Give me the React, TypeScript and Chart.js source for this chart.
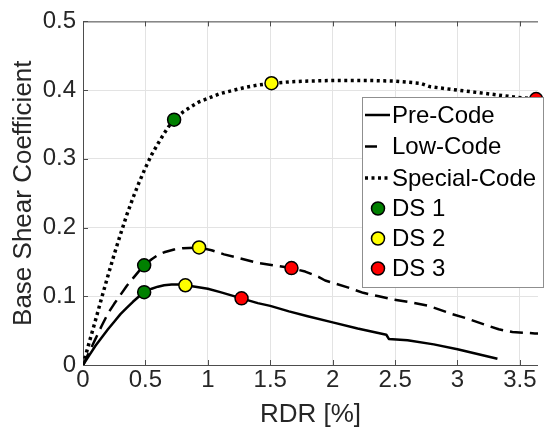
import React, { useEffect, useRef } from "react";
import { Chart, registerables } from "chart.js";

Chart.register(...registerables);

// ---- data ----
const preX = [0, 0.05, 0.1, 0.15, 0.2, 0.25, 0.3, 0.35, 0.4, 0.45, 0.49, 0.55, 0.6, 0.65, 0.71, 0.76, 0.82, 0.9, 1.0, 1.1, 1.27, 1.4, 1.5, 1.65, 1.8, 2.0, 2.2, 2.43, 2.45, 2.6, 2.81, 3.0, 3.32];
const preY = [0, 0.014, 0.028, 0.04, 0.052, 0.063, 0.074, 0.083, 0.092, 0.1, 0.106, 0.111, 0.114, 0.116, 0.117, 0.117, 0.116, 0.114, 0.111, 0.106, 0.097, 0.09, 0.086, 0.078, 0.071, 0.062, 0.053, 0.044, 0.038, 0.036, 0.03, 0.023, 0.009];

const lowX = [0, 0.05, 0.1, 0.15, 0.2, 0.25, 0.3, 0.35, 0.4, 0.45, 0.49, 0.55, 0.6, 0.65, 0.73, 0.8, 0.93, 1.03, 1.13, 1.26, 1.39, 1.53, 1.67, 1.78, 1.89, 1.94, 2.03, 2.12, 2.245, 2.37, 2.49, 2.63, 2.77, 2.96, 3.07, 3.23, 3.33, 3.44, 3.62, 3.9];
const lowY = [0, 0.019, 0.038, 0.057, 0.075, 0.089, 0.102, 0.115, 0.126, 0.137, 0.145, 0.154, 0.16, 0.164, 0.168, 0.17, 0.171, 0.167, 0.161, 0.155, 0.149, 0.145, 0.141, 0.136, 0.128, 0.123, 0.118, 0.113, 0.105, 0.1, 0.095, 0.091, 0.086, 0.074, 0.068, 0.058, 0.052, 0.048, 0.046, 0.043];

const specX = [0, 0.05, 0.1, 0.15, 0.2, 0.25, 0.3, 0.35, 0.4, 0.45, 0.5, 0.55, 0.6, 0.65, 0.72, 0.8, 0.865, 0.93, 1.0, 1.1, 1.21, 1.3, 1.39, 1.51, 1.65, 1.78, 2.0, 2.31, 2.5, 2.7, 2.78, 3.0, 3.23, 3.45, 3.63, 3.9];
const specY = [0, 0.033, 0.065, 0.098, 0.13, 0.161, 0.19, 0.218, 0.243, 0.266, 0.287, 0.306, 0.322, 0.337, 0.356, 0.368, 0.376, 0.383, 0.388, 0.395, 0.4, 0.404, 0.407, 0.41, 0.412, 0.413, 0.414, 0.414, 0.413, 0.41, 0.405, 0.4, 0.395, 0.39, 0.387, 0.383];

const ds1X = [0.49, 0.49, 0.73];
const ds1Y = [0.106, 0.145, 0.357];
const ds2X = [0.82, 0.93, 1.51];
const ds2Y = [0.116, 0.171, 0.41];
const ds3X = [1.27, 1.67, 3.63];
const ds3Y = [0.097, 0.141, 0.387];

const xTicks = [0, 0.5, 1, 1.5, 2, 2.5, 3, 3.5];
const yTicks = [0, 0.1, 0.2, 0.3, 0.4, 0.5];

const seriesNames = ["Pre-Code", "Low-Code", "Special-Code"];
const dsNames = ["DS 1", "DS 2", "DS 3"];
const dsColors = ["#008000", "#ffff00", "#ff0000"];

const FONT = '"Liberation Sans", Arial, Helvetica, sans-serif';
const AXIS_COLOR = "#4d4d4d";
const TEXT_COLOR = "#262626";

const pts = (xs: number[], ys: number[]) => xs.map((x, i) => ({ x, y: ys[i] }));

const boxPlugin = {
  id: "boxPlugin",
  beforeDatasetsDraw(chart: any) {
    const { ctx, chartArea, scales } = chart;
    const { left, right, top, bottom } = chartArea;
    ctx.save();
    ctx.strokeStyle = AXIS_COLOR;
    ctx.lineWidth = 1;
    ctx.beginPath();
    ctx.moveTo(left + 0.5, top + 0.5);
    ctx.lineTo(left + 0.5, bottom + 0.5);
    ctx.lineTo(right, bottom + 0.5);
    ctx.moveTo(left + 0.5, top + 0.5);
    ctx.lineTo(right, top + 0.5);
    const tl = 5;
    xTicks.forEach((v) => {
      const px = Math.round(scales.x.getPixelForValue(v)) + 0.5;
      ctx.moveTo(px, bottom);
      ctx.lineTo(px, bottom - tl);
      ctx.moveTo(px, top);
      ctx.lineTo(px, top + tl);
    });
    yTicks.forEach((v) => {
      const py = Math.round(scales.y.getPixelForValue(v)) + 0.5;
      ctx.moveTo(left, py);
      ctx.lineTo(left + tl, py);
    });
    ctx.stroke();
    ctx.restore();
  },
};

const legendPlugin = {
  id: "legendPlugin",
  afterDraw(chart: any) {
    const { ctx } = chart;
    const bx = 362.5, by = 97.5, bw = 181, bh = 190;
    ctx.save();
    ctx.fillStyle = "#ffffff";
    ctx.fillRect(bx, by, bw, bh);
    ctx.strokeStyle = "#8f8f8f";
    ctx.lineWidth = 1;
    ctx.strokeRect(bx, by, bw, bh);

    const rowY = [115, 146.5, 178, 208.5, 238.5, 268.5];
    const textX = 392;
    ctx.strokeStyle = "#000";
    ctx.lineCap = "butt";
    ctx.lineWidth = 2.5;
    ctx.setLineDash([]);
    ctx.beginPath();
    ctx.moveTo(365, rowY[0]);
    ctx.lineTo(390, rowY[0]);
    ctx.stroke();
    ctx.beginPath();
    ctx.moveTo(365, rowY[1]);
    ctx.lineTo(377, rowY[1]);
    ctx.stroke();
    ctx.lineWidth = 3.5;
    ctx.setLineDash([3, 3.5]);
    ctx.beginPath();
    ctx.moveTo(365, rowY[2]);
    ctx.lineTo(390, rowY[2]);
    ctx.stroke();
    ctx.setLineDash([]);
    dsColors.forEach((c, i) => {
      ctx.beginPath();
      ctx.arc(378, rowY[3 + i], 6.5, 0, Math.PI * 2);
      ctx.fillStyle = c;
      ctx.fill();
      ctx.lineWidth = 1.5;
      ctx.strokeStyle = "#000";
      ctx.stroke();
    });
    ctx.fillStyle = "#000";
    ctx.font = `24px ${FONT}`;
    ctx.textBaseline = "middle";
    ctx.textAlign = "left";
    const labels = [...seriesNames, ...dsNames];
    labels.forEach((t, i) => ctx.fillText(t, textX, rowY[i] + 1));
    ctx.restore();
  },
};

export default function App() {
  const ref = useRef<HTMLCanvasElement | null>(null);
  useEffect(() => {
    document.body.style.margin = "0";
    document.body.style.overflow = "hidden";
    if (!ref.current) return;
    Chart.defaults.font.family = FONT;
    const markerDs = (i: number, xs: number[], ys: number[]) => ({
      label: dsNames[i],
      data: pts(xs, ys),
      showLine: false,
      pointRadius: 6.5,
      pointHoverRadius: 6.5,
      pointBackgroundColor: dsColors[i],
      pointBorderColor: "#000",
      pointBorderWidth: 1.5,
      clip: false as any,
    });
    const lineDs = (i: number, xs: number[], ys: number[], dash: number[], w: number) => ({
      label: seriesNames[i],
      data: pts(xs, ys),
      showLine: true,
      borderColor: "#000",
      borderWidth: w,
      borderDash: dash,
      borderCapStyle: "butt" as const,
      borderJoinStyle: "round" as const,
      pointRadius: 0,
      pointHoverRadius: 0,
      tension: 0,
      fill: false,
    });
    const chart = new Chart(ref.current, {
      type: "scatter",
      data: {
        datasets: [
          markerDs(0, ds1X, ds1Y),
          markerDs(1, ds2X, ds2Y),
          markerDs(2, ds3X, ds3Y),
          lineDs(0, preX, preY, [], 2.5),
          lineDs(1, lowX, lowY, [13, 7], 2.5),
          lineDs(2, specX, specY, [3, 3.5], 3.5),
        ] as any,
      },
      options: {
        animation: false,
        responsive: false,
        maintainAspectRatio: false,
        layout: { padding: { top: 19, right: 0, bottom: 0, left: 0 } },
        plugins: { legend: { display: false }, tooltip: { enabled: false } },
        scales: {
          x: {
            type: "linear",
            min: 0,
            max: 3.645,
            afterBuildTicks: (scale: any) => {
              scale.ticks = xTicks.map((v) => ({ value: v }));
            },
            afterFit: (scale: any) => {
              scale.height = 72;
              scale.paddingLeft = 0;
              scale.paddingRight = 0;
            },
            ticks: {
              font: { size: 24 },
              color: TEXT_COLOR,
              padding: 1,
              maxRotation: 0,
              autoSkip: false,
              callback: (v: any) => String(Math.round(Number(v) * 2) / 2),
            },
            grid: { color: "#e3e3e3", drawTicks: false },
            border: { display: false },
            title: {
              display: true,
              text: "RDR [%]",
              font: { size: 26 },
              color: TEXT_COLOR,
              padding: { top: 0, bottom: 7 },
            },
          },
          y: {
            type: "linear",
            min: 0,
            max: 0.5,
            afterBuildTicks: (scale: any) => {
              scale.ticks = yTicks.map((v) => ({ value: v }));
            },
            afterFit: (scale: any) => {
              scale.width = 83;
            },
            ticks: {
              font: { size: 24 },
              color: TEXT_COLOR,
              padding: 7,
              autoSkip: false,
              callback: (v: any) => String(Math.round(Number(v) * 10) / 10),
            },
            grid: { color: "#e3e3e3", drawTicks: false },
            border: { display: false },
            title: {
              display: true,
              text: "Base Shear Coefficient",
              font: { size: 26 },
              color: TEXT_COLOR,
              padding: { top: 8, bottom: 0 },
            },
          },
        },
      },
      plugins: [boxPlugin, legendPlugin],
    });
    return () => chart.destroy();
  }, []);
  return (
    <div style={{ width: 546, height: 437, position: "relative", background: "#fff" }}>
      <canvas ref={ref} width={546} height={437} style={{ display: "block" }} />
    </div>
  );
}
